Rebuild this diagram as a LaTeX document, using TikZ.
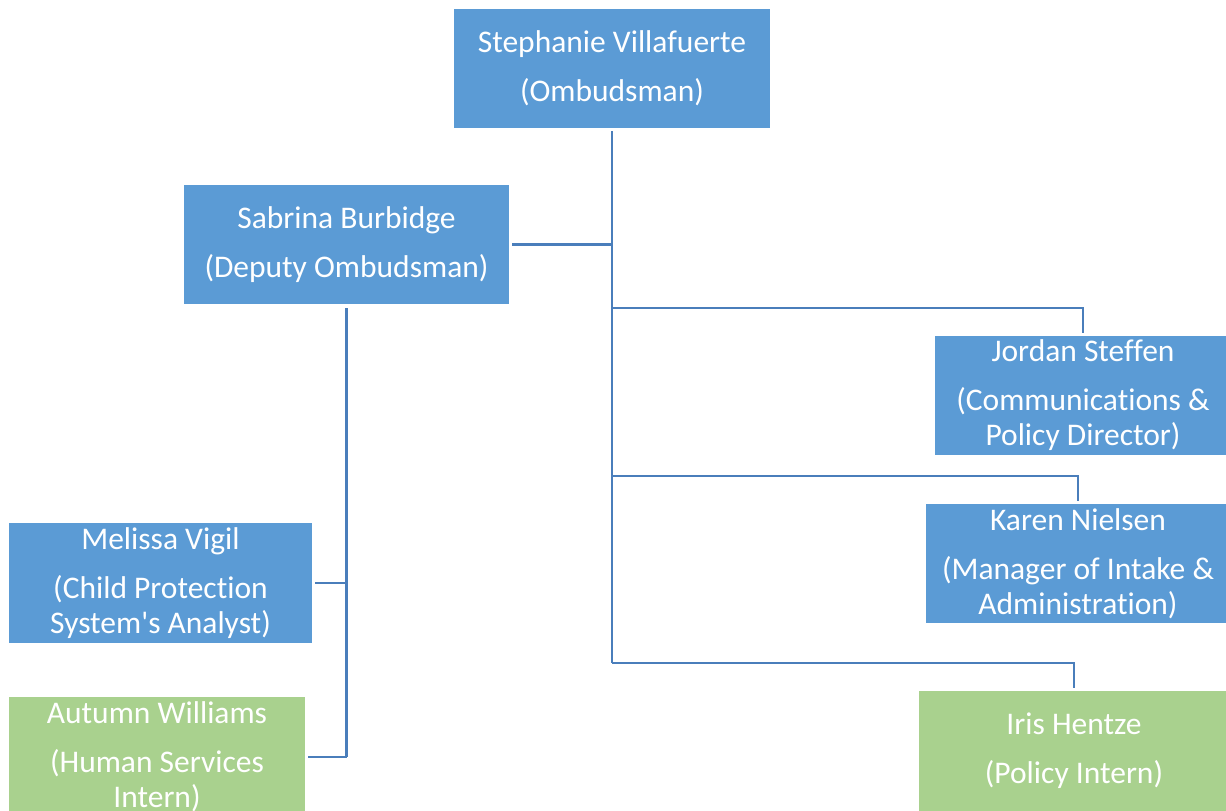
\documentclass[tikz,border=0pt]{standalone}
\usepackage{fontspec}
\setmainfont[Ligatures={NoCommon,TeXOff}]{Carlito}
\definecolor{boxblue}{HTML}{5B9BD5}
\definecolor{boxgreen}{HTML}{A9D18E}
\definecolor{linkblue}{HTML}{4A7EBB}
\begin{document}
\begin{tikzpicture}[x=1pt,y=-1pt,
  card/.style={fill=boxblue, draw=none, text=white, align=center, inner sep=0pt,
    font=\fontsize{31.5}{35}\selectfont},
  intern/.style={card, fill=boxgreen},
  link/.style={draw=linkblue, line width=2.6pt}]
\useasboundingbox (0,0) rectangle (1226,811);
\clip (0,0) rectangle (1226,811);
\node[card, minimum width=316pt, minimum height=119pt] (S) at (612,68.5)
  {Stephanie Villafuerte\\[14pt](Ombudsman)};
\node[card, minimum width=325pt, minimum height=119pt] (B) at (346.5,244.5)
  {Sabrina Burbidge\\[14pt](Deputy Ombudsman)};
\node[card, minimum width=296pt, minimum height=119pt] (J) at (1083,395.5)
  {Jordan Steffen\\[14pt](Communications \&\\Policy Director)};
\node[card, minimum width=304pt, minimum height=119pt] (K) at (1078,563.5)
  {Karen Nielsen\\[14pt](Manager of Intake \&\\Administration)};
\node[card, minimum width=303pt, minimum height=120pt] (M) at (160.5,583)
  {Melissa Vigil\\[14pt](Child Protection\\System's Analyst)};
\node[intern, minimum width=296pt, minimum height=120pt] (A) at (157,757)
  {Autumn Williams\\[14pt](Human Services\\Intern)};
\node[intern, minimum width=310pt, minimum height=120pt] (I) at (1074,751)
  {Iris Hentze\\[14pt](Policy Intern)};
\coordinate (jl) at (611,308);
\coordinate (kl) at (611,476);
\coordinate (il) at (611,663);
\path[link] ([yshift=-3pt]S.south) -- (S.south |- il);
\path[link] ([xshift=3pt]B.east) -- (B.east -| S.south);
\path[link] (S.south |- jl) -| ([yshift=3pt]J.north);
\path[link] (S.south |- kl) -| ([yshift=3pt]K.north);
\path[link] (S.south |- il) -| ([yshift=3pt]I.north);
\path[link] ([yshift=-4pt]B.south) -- (B.south |- A.east);
\path[link] ([xshift=3pt]M.east) -- (M.east -| B.south);
\path[link] ([xshift=3pt]A.east) -- (A.east -| B.south);
\end{tikzpicture}
\end{document}
